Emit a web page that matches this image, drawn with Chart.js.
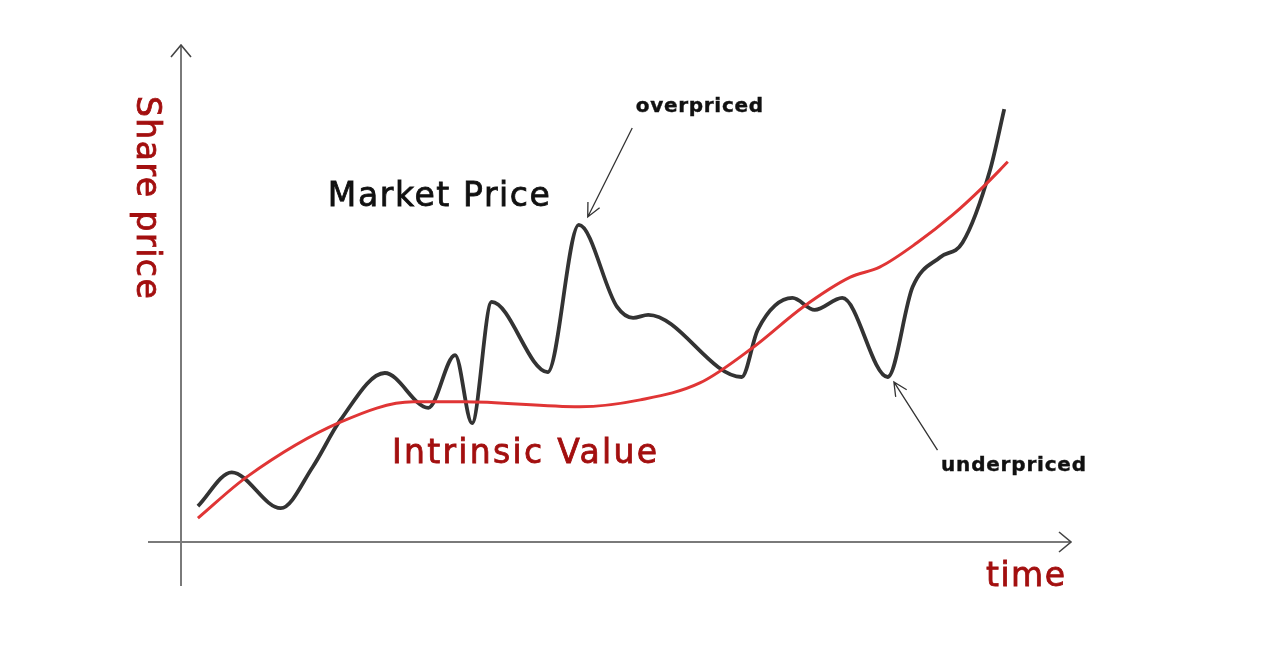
<!DOCTYPE html>
<html>
<head>
<meta charset="utf-8">
<script src="https://cdn.jsdelivr.net/npm/chart.js@4"></script>
<style>
  html, body { margin: 0; padding: 0; background: #fff; }
  #wrap { width: 1264px; height: 652px; }
</style>
</head>
<body>
<div id="wrap"><canvas id="chart"></canvas></div>
<script>
// time runs 0..100, share price 0..100
const marketTime = [1.9, 5.7, 11.2, 14.8, 17.9, 22.9, 27.8, 30.8, 32.7, 34.9, 41.2, 44.7, 49.0, 50.8, 52.5, 63.0, 64.8, 68.7, 71.2, 74.3, 79.4, 82.2, 85.3, 87.8, 90.9, 92.5]
const marketPrice = [7.2, 14.0, 6.8, 15.1, 24.5, 34.0, 27.0, 37.6, 23.9, 48.3, 34.2, 63.8, 47.3, 45.1, 45.7, 33.2, 42.7, 49.1, 46.7, 49.1, 33.2, 51.3, 57.3, 60.2, 74.8, 87.1]

const valueTime = [1.9, 7.4, 17.9, 26.1, 31.7, 44.8, 51.6, 58.3, 64.3, 69.9, 75.2, 78.5, 82.7, 86.7, 90.1, 92.9]
const intrinsicValue = [4.8, 13.1, 24.1, 28.2, 28.2, 27.2, 28.6, 32.0, 39.2, 47.3, 53.3, 55.3, 60.2, 65.8, 71.4, 76.5]

const toPoints = (xs, ys) => xs.map((x, i) => ({ x: x, y: ys[i] }))

const FONT = '"DejaVu Sans", "Open Sans", sans-serif'
const DARK_RED = '#a30f0f'

// draws axes with open arrowheads and the hand-placed labels
const sketchPlugin = {
  id: 'sketch',
  beforeDatasetsDraw(chart) {
    const { ctx, scales: { x, y } } = chart
    const x0 = x.getPixelForValue(0)
    const y0 = y.getPixelForValue(0)
    ctx.save()
    ctx.strokeStyle = '#7a7a7a'
    ctx.lineWidth = 2
    ctx.beginPath()
    ctx.moveTo(x0, y0 + 44)
    ctx.lineTo(x0, y.getPixelForValue(100))
    ctx.moveTo(x0 - 33, y0)
    ctx.lineTo(x.getPixelForValue(100), y0)
    ctx.stroke()
    ctx.strokeStyle = '#444'
    ctx.lineWidth = 1.6
    // arrowheads
    const top = y.getPixelForValue(100)
    const right = x.getPixelForValue(100)
    ctx.beginPath()
    ctx.moveTo(x0 - 10, top + 12)
    ctx.lineTo(x0, top)
    ctx.lineTo(x0 + 10, top + 12)
    ctx.moveTo(right - 12, y0 - 10)
    ctx.lineTo(right, y0)
    ctx.lineTo(right - 12, y0 + 10)
    ctx.stroke()
    ctx.restore()
  },
  afterDatasetsDraw(chart) {
    const { ctx, scales: { x, y } } = chart
    const px = (v) => x.getPixelForValue(v)
    const py = (v) => y.getPixelForValue(v)
    ctx.save()
    ctx.textBaseline = 'middle'

    // pointer arrows
    const pointer = (fx, fy, tx, ty) => {
      const a = Math.atan2(ty - fy, tx - fx)
      ctx.beginPath()
      ctx.moveTo(fx, fy)
      ctx.lineTo(tx, ty)
      ctx.moveTo(tx - 15 * Math.cos(a - 0.45), ty - 15 * Math.sin(a - 0.45))
      ctx.lineTo(tx, ty)
      ctx.lineTo(tx - 15 * Math.cos(a + 0.45), ty - 15 * Math.sin(a + 0.45))
      ctx.stroke()
    }
    ctx.strokeStyle = '#333'
    ctx.lineWidth = 1.3
    pointer(px(50.7), py(83.3), px(45.7), py(65.4))
    pointer(px(85.0), py(18.5), px(80.1), py(32.2))

    // text with a thin outline so it reads a little heavier
    const label = (txt, tx, ty, color) => {
      ctx.fillStyle = color
      ctx.strokeStyle = color
      ctx.fillText(txt, tx, ty)
      ctx.strokeText(txt, tx, ty)
    }

    ctx.textAlign = 'left'
    ctx.lineWidth = 0.4
    ctx.font = 'bold 20px ' + FONT
    ctx.letterSpacing = '0.7px'
    label('overpriced', px(51.1), py(87.5), '#111')
    ctx.letterSpacing = '0.8px'
    label('underpriced', px(85.4), py(15.3), '#111')

    ctx.lineWidth = 0.8
    ctx.font = '33px ' + FONT
    ctx.letterSpacing = '1.6px'
    label('Market Price', px(16.5), py(69.3), '#111')
    ctx.letterSpacing = '2.3px'
    label('Intrinsic Value', px(23.7), py(17.7), DARK_RED)
    ctx.letterSpacing = '1.5px'
    ctx.textAlign = 'right'
    label('time', px(99.5), py(-7.1), DARK_RED)

    ctx.translate(px(-4.0), py(69.2))
    ctx.rotate(Math.PI / 2)
    ctx.textAlign = 'center'
    label('Share price', 0, 0, DARK_RED)
    ctx.restore()
  }
}

new Chart(document.getElementById('chart'), {
  type: 'line',
  data: {
    datasets: [
      {
        label: 'Intrinsic Value',
        data: toPoints(valueTime, intrinsicValue),
        borderColor: '#e03535',
        borderWidth: 3,
        cubicInterpolationMode: 'monotone',
        pointRadius: 0,
        clip: false,
      },
      {
        label: 'Market Price',
        data: toPoints(marketTime, marketPrice),
        borderColor: '#333',
        borderWidth: 3.8,
        cubicInterpolationMode: 'monotone',
        pointRadius: 0,
        clip: false,
      },
    ],
  },
  options: {
    responsive: true,
    maintainAspectRatio: false,
    animation: false,
    layout: { padding: { left: 181, right: 193, top: 45, bottom: 110 } },
    scales: {
      x: { type: 'linear', min: 0, max: 100, display: false },
      y: { type: 'linear', min: 0, max: 100, display: false },
    },
    plugins: {
      legend: { display: false },
      tooltip: { enabled: false },
    },
  },
  plugins: [sketchPlugin],
})
</script>
</body>
</html>
